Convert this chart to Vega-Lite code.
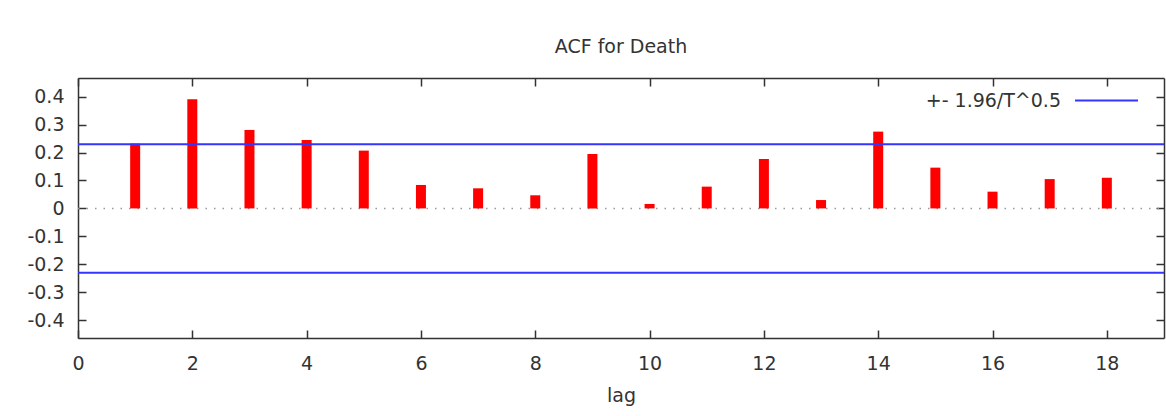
{
  "$schema": "https://vega.github.io/schema/vega-lite/v6.json",
  "width": 1086,
  "height": 260,
  "autosize": {"type": "none"},
  "padding": {"left": 78, "top": 78, "right": 2, "bottom": 78},
  "background": "white",
  "title": {"text": "ACF for Death", "fontSize": 19, "font": "DejaVu Sans", "fontWeight": "normal", "color": "#333333", "offset": 11, "anchor": "middle"},
  "config": {
    "view": {"stroke": null},
    "axis": {
      "domainColor": "#333333", "domainWidth": 1.5, "tickColor": "#333333", "tickWidth": 1.5, "tickSize": -8,
      "labelFont": "DejaVu Sans", "labelFontSize": 19, "labelColor": "#333333",
      "titleFont": "DejaVu Sans", "titleFontSize": 19, "titleFontWeight": "normal", "titleColor": "#333333",
      "grid": false
    }
  },
  "datasets": {
    "acf": [
      {"lag": 1, "acf": 0.232}, {"lag": 2, "acf": 0.391}, {"lag": 3, "acf": 0.281},
      {"lag": 4, "acf": 0.245}, {"lag": 5, "acf": 0.207}, {"lag": 6, "acf": 0.084},
      {"lag": 7, "acf": 0.072}, {"lag": 8, "acf": 0.047}, {"lag": 9, "acf": 0.195},
      {"lag": 10, "acf": 0.016}, {"lag": 11, "acf": 0.078}, {"lag": 12, "acf": 0.177},
      {"lag": 13, "acf": 0.030}, {"lag": 14, "acf": 0.275}, {"lag": 15, "acf": 0.146},
      {"lag": 16, "acf": 0.060}, {"lag": 17, "acf": 0.105}, {"lag": 18, "acf": 0.110}
    ],
    "bands": [
      {"series": "+- 1.96/T^0.5", "bound": 0.23},
      {"series": "+- 1.96/T^0.5", "bound": -0.23}
    ]
  },
  "layer": [
    {
      "data": {"values": [{"z": 0}]},
      "mark": {"type": "rule", "color": "#9a9a9a", "strokeWidth": 1.5, "strokeDash": [1.5, 7]},
      "encoding": {
        "x": {"datum": 0, "type": "quantitative", "scale": {"domain": [0, 19], "nice": false, "zero": false, "padding": 0}, "axis": null},
        "x2": {"datum": 19},
        "y": {"field": "z", "type": "quantitative", "scale": {"domain": [-0.464, 0.467], "nice": false, "padding": 0}, "axis": null}
      }
    },
    {
      "data": {"name": "acf"},
      "mark": {"type": "bar", "color": "#ff0000", "size": 10},
      "encoding": {
        "x": {"field": "lag", "type": "quantitative",
              "axis": {"orient": "bottom", "values": [0, 2, 4, 6, 8, 10, 12, 14, 16, 18], "title": "lag", "labelPadding": 24, "titlePadding": 13, "labelFlush": false}},
        "y": {"field": "acf", "type": "quantitative",
              "axis": {"orient": "left", "values": [-0.4, -0.3, -0.2, -0.1, 0, 0.1, 0.2, 0.3, 0.4], "title": null, "labelPadding": 22,
                       "labelExpr": "datum.value == 0 ? '0' : (datum.value < 0 ? '-' + format(-datum.value, '.1f') : format(datum.value, '.1f'))"}}
      }
    },
    {
      "data": {"name": "bands"},
      "mark": {"type": "rule", "strokeWidth": 2},
      "encoding": {
        "x": {"datum": 0, "type": "quantitative",
              "axis": {"orient": "top", "values": [0, 2, 4, 6, 8, 10, 12, 14, 16, 18], "labels": false, "title": null}},
        "x2": {"datum": 19},
        "y": {"field": "bound", "type": "quantitative",
              "axis": {"orient": "right", "values": [-0.4, -0.3, -0.2, -0.1, 0, 0.1, 0.2, 0.3, 0.4], "labels": false, "title": null}},
        "color": {"field": "series", "type": "nominal", "scale": {"range": ["#3535ff"]},
                  "legend": {"title": null, "orient": "none", "legendX": 996, "legendY": -10, "symbolType": "stroke", "symbolSize": 3969, "symbolStrokeWidth": 2,
                             "labelFont": "DejaVu Sans", "labelFontSize": 19, "labelColor": "#333333", "labelAlign": "right", "labelOffset": -78}}
      }
    }
  ],
  "resolve": {"axis": {"x": "independent", "y": "independent"}}
}
